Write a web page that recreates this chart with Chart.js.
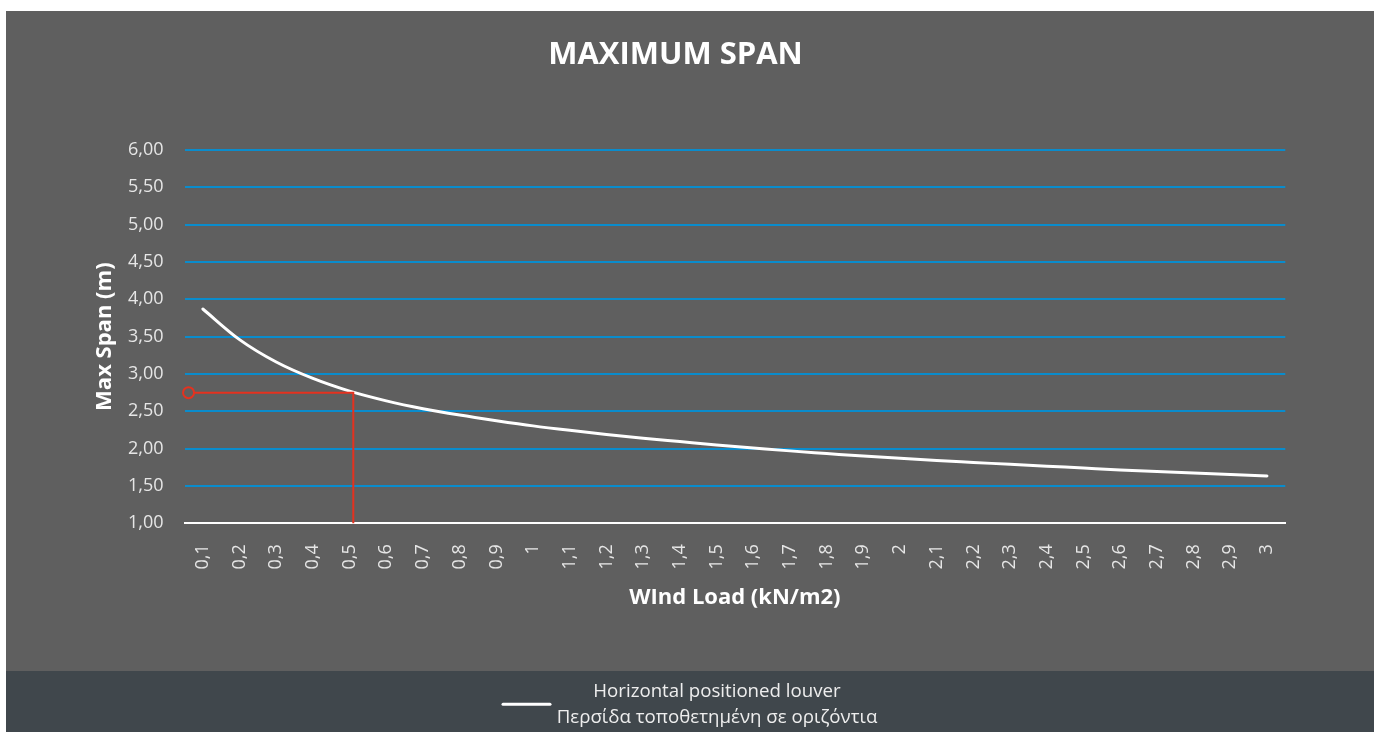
<!DOCTYPE html>
<html>
<head>
<meta charset="utf-8">
<title>Maximum Span</title>
<script src="https://cdn.jsdelivr.net/npm/chart.js@4/dist/chart.umd.min.js"></script>
<style>
  html, body { margin: 0; padding: 0; background: #ffffff; }
  #wrap { position: absolute; left: 6px; top: 11px; width: 1368px; height: 721px; }
  canvas { display: block; }
</style>
</head>
<body>
<div id="wrap"><canvas id="chart" width="1368" height="721"></canvas></div>
<script>
// Wind load categories (kN/m2) and the matching maximum span (m)
const windLoadLabels = ['0,1','0,2','0,3','0,4','0,5','0,6','0,7','0,8','0,9','1',
                        '1,1','1,2','1,3','1,4','1,5','1,6','1,7','1,8','1,9','2',
                        '2,1','2,2','2,3','2,4','2,5','2,6','2,7','2,8','2,9','3'];
const maxSpan = [3.87, 3.46, 3.16, 2.94, 2.77, 2.64, 2.535, 2.45, 2.375, 2.305,
                 2.245, 2.19, 2.14, 2.095, 2.05, 2.01, 1.97, 1.935, 1.90, 1.87,
                 1.84, 1.815, 1.79, 1.765, 1.74, 1.715, 1.695, 1.675, 1.655, 1.635];

// Worked example: reading the span for a given wind load
const exampleLoad = [0.061, 0.51, 0.51];
const exampleSpan = [2.75, 2.75, 1.00];

const seriesName = ['Horizontal positioned louver', 'Περσίδα τοποθετημένη σε οριζόντια'];
const chartTitle = 'MAXIMUM SPAN';

const FONT = "'Open Sans', 'DejaVu Sans', sans-serif";
const PANEL = '#5f5f5f';
const BAND = '#40474c';
const BAND_TOP = 660;

const backdrop = {
  id: 'backdrop',
  beforeDraw(chart) {
    const { ctx, width, height } = chart;
    ctx.save();
    ctx.fillStyle = PANEL;
    ctx.fillRect(0, 0, width, BAND_TOP);
    ctx.fillStyle = BAND;
    ctx.fillRect(0, BAND_TOP, width, height - BAND_TOP);
    ctx.restore();
  }
};

const heading = {
  id: 'heading',
  afterDraw(chart) {
    const ctx = chart.ctx;
    ctx.save();
    ctx.fillStyle = '#ffffff';
    ctx.font = 'bold 31px ' + FONT;
    ctx.textAlign = 'center';
    ctx.textBaseline = 'alphabetic';
    ctx.fillText(chartTitle, 669.5, 53);

    // legend: line sample with a two-line caption
    ctx.strokeStyle = '#ffffff';
    ctx.lineWidth = 3;
    ctx.lineCap = 'round';
    ctx.beginPath();
    ctx.moveTo(497, 693.3);
    ctx.lineTo(544, 693.3);
    ctx.stroke();
    ctx.fillStyle = '#eeeeee';
    ctx.font = '18.7px ' + FONT;
    ctx.fillText(seriesName[0], 711, 686);
    ctx.fillText(seriesName[1], 711, 712);
    ctx.restore();
  }
};

new Chart(document.getElementById('chart'), {
  type: 'line',
  data: {
    labels: windLoadLabels,
    datasets: [
      {
        label: seriesName.join(' '),
        data: maxSpan,
        xAxisID: 'x',
        yAxisID: 'y',
        borderColor: '#ffffff',
        borderWidth: 3,
        borderCapStyle: 'round',
        pointRadius: 0,
        tension: 0.4,
        cubicInterpolationMode: 'monotone',
        order: 1
      },
      {
        label: 'example',
        data: exampleLoad.map((x, i) => ({ x: x, y: exampleSpan[i] })),
        xAxisID: 'xv',
        yAxisID: 'y',
        borderColor: '#e5321f',
        borderWidth: 2,
        tension: 0,
        pointRadius: [5.5, 0, 0],
        pointBorderWidth: 2,
        pointBorderColor: '#e5321f',
        pointBackgroundColor: PANEL,
        clip: false,
        order: 0
      }
    ]
  },
  options: {
    responsive: false,
    animation: false,
    devicePixelRatio: 1,
    layout: { padding: { left: 85.8, right: 88.7, top: 139, bottom: 116.7 } },
    plugins: {
      legend: { display: false },
      title: { display: false },
      tooltip: { enabled: false }
    },
    scales: {
      x: {
        type: 'category',
        offset: true,
        grid: { display: false, drawTicks: false },
        border: { display: true, color: '#ffffff', width: 2 },
        ticks: {
          color: '#e6e6e6',
          font: { family: FONT, size: 18 },
          minRotation: 90,
          maxRotation: 90,
          autoSkip: false,
          padding: 21
        },
        title: {
          display: true,
          text: 'WInd Load (kN/m2)',
          color: '#ffffff',
          font: { family: FONT, size: 22, weight: 'bold' },
          padding: { top: 4, bottom: 4 }
        },
        afterFit(scale) { scale.height = 92; }
      },
      xv: {
        type: 'linear',
        display: false,
        min: 0.05,
        max: 3.05
      },
      y: {
        type: 'linear',
        min: 1,
        max: 6,
        grid: {
          drawTicks: false,
          lineWidth: 2,
          color: (c) => (c.tick && c.tick.value === 1) ? 'rgba(0,0,0,0)' : '#0a8ccc'
        },
        border: { display: false },
        ticks: {
          stepSize: 0.5,
          color: '#e6e6e6',
          font: { family: FONT, size: 18 },
          padding: 21,
          callback: (v) => v.toFixed(2).replace('.', ',')
        },
        title: {
          display: true,
          text: 'Max Span (m)',
          color: '#ffffff',
          font: { family: FONT, size: 22, weight: 'bold' },
          padding: { top: 0, bottom: 0 }
        },
        afterFit(scale) { scale.width = 92.7; }
      }
    }
  },
  plugins: [backdrop, heading]
});
</script>
</body>
</html>
